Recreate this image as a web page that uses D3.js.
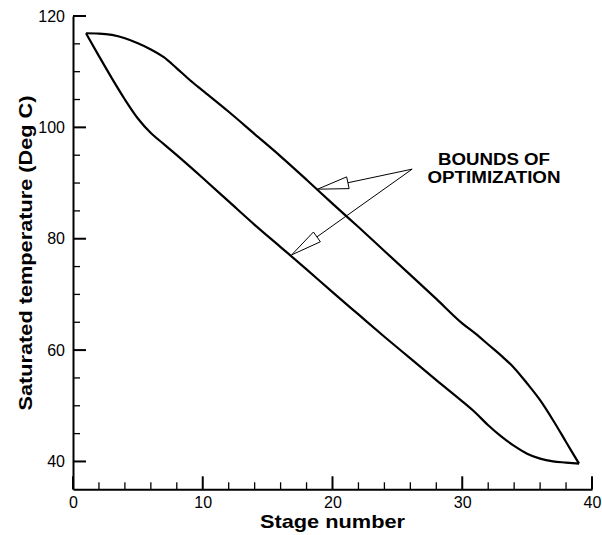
<!DOCTYPE html>
<html>
<head>
<meta charset="utf-8">
<script src="https://cdn.jsdelivr.net/npm/d3@7"></script>
</head>
<body style="margin:0">
<div id="chart"></div>
<script>
// stage numbers and saturated temperatures (deg C)
const upperStages = [1, 2, 3, 4, 5, 6, 7, 8, 9, 10, 12, 14, 16, 18, 20, 22, 24, 26, 28, 30, 31, 32, 33, 34, 35, 36, 37, 38, 39]
const upperTemps = [116.9, 116.85, 116.6, 116.0, 115.1, 114.0, 112.6, 110.6, 108.5, 106.6, 102.8, 98.8, 94.8, 90.6, 86.3, 82.1, 77.8, 73.5, 69.2, 64.8, 63.0, 61.0, 59.0, 56.8, 54.0, 51.0, 47.4, 43.5, 39.6]

const lowerStages = [1, 2, 3, 4, 5, 6, 7, 8, 10, 12, 14, 16, 18, 20, 22, 24, 26, 28, 30, 31, 32, 33, 34, 35, 36, 37, 38, 39]
const lowerTemps = [116.9, 112.8, 108.8, 105.0, 101.6, 99.0, 97.0, 95.0, 90.9, 86.7, 82.5, 78.5, 74.5, 70.4, 66.4, 62.4, 58.5, 54.6, 50.8, 48.8, 46.5, 44.5, 42.8, 41.4, 40.5, 40.0, 39.8, 39.6]

const xMajorTicks = [0, 10, 20, 30, 40]
const xMinorTicks = [2, 4, 6, 8, 12, 14, 16, 18, 22, 24, 26, 28, 32, 34, 36, 38]
const yMajorTicks = [40, 60, 80, 100, 120]
const yMinorTicks = [45, 50, 55, 65, 70, 75, 85, 90, 95, 105, 110, 115]

const annotationLines = ['BOUNDS OF', 'OPTIMIZATION']
const annotationFrom = [26.14, 92.5]
const annotationTips = [[18.85, 88.9], [16.85, 77.1]]

const svg = d3
  .select('#chart')
  .append('svg')
  .attr('width', 602)
  .attr('height', 535)
  .attr('font-family', 'Liberation Sans, Arial, sans-serif')

const xScale = d3.scaleLinear().domain([0, 40]).range([73, 592])
const yScale = d3.scaleLinear().domain([35, 120]).range([489.3, 16])

const x0 = xScale(0)
const y0 = yScale(35)

// axis lines and labels
svg
  .append('g')
  .attr('transform', 'translate(0,' + y0 + ')')
  .call(d3.axisBottom(xScale).tickValues(xMajorTicks).tickSizeInner(0).tickSizeOuter(0).tickPadding(7))
  .call(g => g.select('.domain').attr('stroke', '#000').attr('stroke-width', 2))
  .call(g => g.selectAll('text').attr('font-size', 16).attr('fill', '#000'))

svg
  .append('g')
  .attr('transform', 'translate(' + x0 + ',0)')
  .call(d3.axisLeft(yScale).tickValues(yMajorTicks).tickSizeInner(0).tickSizeOuter(0).tickPadding(8))
  .call(g => g.select('.domain').attr('stroke', '#000').attr('stroke-width', 2))
  .call(g => g.selectAll('text').attr('font-size', 16).attr('fill', '#000'))

// tick marks as small filled bars pointing inwards
const xTickData = xMinorTicks.map(v => ({ v: v, size: 7, w: 1.3 }))
  .concat(xMajorTicks.map(v => ({ v: v, size: 13, w: 2 })))
const yTickData = yMinorTicks.map(v => ({ v: v, size: 7, w: 1.3 }))
  .concat(yMajorTicks.map(v => ({ v: v, size: 13, w: 2 })))

svg
  .selectAll('.xt')
  .data(xTickData)
  .enter()
  .append('rect')
  .attr('class', 'xt')
  .attr('x', d => xScale(d.v) - d.w / 2)
  .attr('y', d => y0 - d.size)
  .attr('width', d => d.w)
  .attr('height', d => d.size)
  .attr('fill', '#000')

svg
  .selectAll('.yt')
  .data(yTickData)
  .enter()
  .append('rect')
  .attr('class', 'yt')
  .attr('x', x0)
  .attr('y', d => yScale(d.v) - d.w / 2)
  .attr('width', d => d.size)
  .attr('height', d => d.w)
  .attr('fill', '#000')

// the two bound curves
const boundLine = d3
  .line()
  .x(d => xScale(d[0]))
  .y(d => yScale(d[1]))
  .curve(d3.curveMonotoneX)

const upper = upperStages.map((s, i) => [s, upperTemps[i]])
const lower = lowerStages.map((s, i) => [s, lowerTemps[i]])

svg
  .selectAll('.bound')
  .data([upper, lower])
  .enter()
  .append('path')
  .attr('class', 'bound')
  .attr('d', boundLine)
  .attr('fill', 'none')
  .attr('stroke', '#000')
  .attr('stroke-width', 2.2)
  .attr('stroke-linejoin', 'round')

// annotation arrows (open heads)
const fx = xScale(annotationFrom[0])
const fy = yScale(annotationFrom[1])
const headLength = 31
const headHalf = 6

annotationTips.forEach(tip => {
  const tx = xScale(tip[0])
  const ty = yScale(tip[1])
  const len = Math.hypot(fx - tx, fy - ty)
  const ux = (fx - tx) / len
  const uy = (fy - ty) / len
  const bx = tx + ux * headLength
  const by = ty + uy * headLength

  svg
    .append('line')
    .attr('x1', fx)
    .attr('y1', fy)
    .attr('x2', bx)
    .attr('y2', by)
    .attr('stroke', '#000')
    .attr('stroke-width', 1)

  svg
    .append('path')
    .attr('d', 'M' + tx + ',' + ty +
      'L' + (bx - uy * headHalf) + ',' + (by + ux * headHalf) +
      'L' + (bx + uy * headHalf) + ',' + (by - ux * headHalf) + 'Z')
    .attr('fill', '#fff')
    .attr('stroke', '#000')
    .attr('stroke-width', 1)
})

svg
  .selectAll('.note')
  .data(annotationLines)
  .enter()
  .append('text')
  .attr('class', 'note')
  .text(d => d)
  .attr('x', 494)
  .attr('y', (d, i) => 165 + i * 17.7)
  .attr('text-anchor', 'middle')
  .attr('textLength', (d, i) => (i === 0 ? 112 : 133))
  .attr('lengthAdjust', 'spacingAndGlyphs')
  .attr('font-size', 16)
  .attr('font-weight', 'bold')

// axis titles
svg
  .append('text')
  .text('Stage number')
  .attr('x', 332.5)
  .attr('y', 528)
  .attr('text-anchor', 'middle')
  .attr('textLength', 145)
  .attr('lengthAdjust', 'spacingAndGlyphs')
  .attr('font-size', 18.5)
  .attr('font-weight', 'bold')

svg
  .append('text')
  .text('Saturated temperature (Deg C)')
  .attr('transform', 'translate(32,253) rotate(-90)')
  .attr('text-anchor', 'middle')
  .attr('textLength', 315)
  .attr('lengthAdjust', 'spacingAndGlyphs')
  .attr('font-size', 18.5)
  .attr('font-weight', 'bold')
</script>
</body>
</html>
